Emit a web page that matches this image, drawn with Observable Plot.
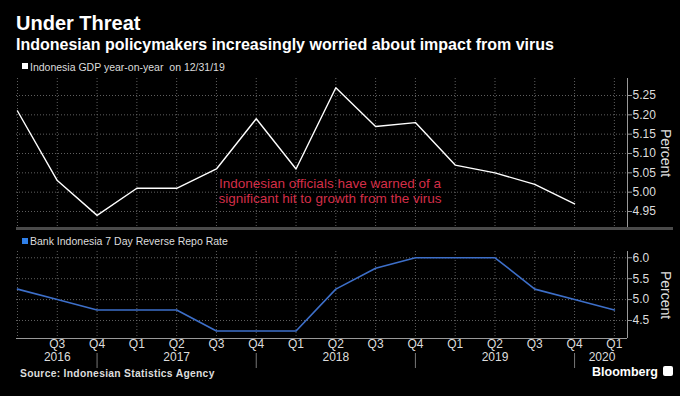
<!DOCTYPE html>
<html><head><meta charset="utf-8">
<script src="https://cdn.jsdelivr.net/npm/d3@7"></script>
<script src="https://cdn.jsdelivr.net/npm/@observablehq/plot@0.6"></script>
<style>
html,body{margin:0;padding:0;background:#000;}
#root{position:relative;width:680px;height:396px;background:#000;overflow:hidden;font-family:"Liberation Sans",Arial,sans-serif;color:#fff;}
.abs{position:absolute;white-space:nowrap;line-height:1;}
.plot{position:absolute;left:0;}
.sq{position:absolute;width:6px;height:6px;}
</style></head><body><div id="root">
<div class="abs" id="title" style="left:16px;top:13px;font-size:20px;font-weight:bold;">Under Threat</div>
<div class="abs" id="subtitle" style="left:16px;top:37px;font-size:16px;font-weight:bold;">Indonesian policymakers increasingly worried about impact from virus</div>
<div class="sq" style="left:22px;top:63px;background:#fff;"></div>
<div class="abs" style="left:30px;top:62px;font-size:10.5px;color:#ddd;">Indonesia GDP year-on-year&nbsp; on 12/31/19</div>
<div id="topPlot" class="plot" style="top:72px;"></div>
<div style="position:absolute;left:16px;top:227px;width:657px;height:3px;background:#4a4a4a;"></div>
<div class="abs" style="left:666px;top:153px;font-size:14px;color:#ddd;transform:translate(-50%,-50%) rotate(90deg);">Percent</div>
<div class="sq" style="left:22px;top:238px;background:#2f7fe8;"></div>
<div class="abs" style="left:30px;top:236px;font-size:10.5px;color:#ddd;">Bank Indonesia 7 Day Reverse Repo Rate</div>
<div id="bottomPlot" class="plot" style="top:245px;"></div>
<div class="abs" style="left:666px;top:295px;font-size:14px;color:#ddd;transform:translate(-50%,-50%) rotate(90deg);">Percent</div>
<div class="abs" style="left:20px;top:369px;font-size:10.3px;font-weight:bold;letter-spacing:0.3px;color:#ddd;">Source: Indonesian Statistics Agency</div>
<div class="abs" style="left:592px;top:366px;font-size:12.5px;font-weight:bold;color:#fff;">Bloomberg</div>
<div style="position:absolute;left:663px;top:366px;width:10px;height:10px;background:#fff;border-radius:2px;"></div>
</div>
<script>
// Data
const quarters = ["Q2","Q3","Q4","Q1","Q2","Q3","Q4","Q1","Q2","Q3","Q4","Q1","Q2","Q3","Q4","Q1"];
const years = ["2016","2017","2018","2019"];
const yearAt = [1, 4, 8, 12];          // quarter index where year label sits
const lastYear = "2020";
const lastYearAt = 15;
const yearBreaks = [2, 6, 10, 14];     // quarter index of year separator marks
const gdp = [5.21, 5.03, 4.94, 5.01, 5.01, 5.06, 5.19, 5.06, 5.27, 5.17, 5.18, 5.07, 5.05, 5.02, 4.97];
const repo = [5.25, 5.00, 4.75, 4.75, 4.75, 4.25, 4.25, 4.25, 5.25, 5.75, 6.00, 6.00, 6.00, 5.25, 5.00, 4.75];
const gdpTicks = [4.95, 5.00, 5.05, 5.10, 5.15, 5.20, 5.25];
const repoTicks = [4.5, 5.0, 5.5, 6.0];
const note = "Indonesian officials have warned of a\nsignificant hit to growth from the virus";

const xDomain = [-0.025, 15.33];
const idx = d3.range(quarters.length);
const gridStyle = {stroke: "#777", strokeOpacity: 0.8, strokeDasharray: "1,2", strokeWidth: 1};
const font = '"Liberation Sans", Arial, sans-serif';

const gdpData = gdp.map((v, i) => ({i, v}));
const repoData = repo.map((v, i) => ({i, v}));
const quarterLabels = quarters.map((q, i) => ({i, q})).filter(d => d.i > 0);

const topChart = Plot.plot({
  width: 680, height: 160, marginTop: 6, marginBottom: 4, marginLeft: 16, marginRight: 53,
  style: {background: "transparent", color: "#ddd", fontSize: "12px", fontFamily: font},
  x: {domain: xDomain, axis: null},
  y: {domain: [4.906, 5.294], axis: null},
  marks: [
    Plot.gridX(idx, gridStyle),
    Plot.gridY(gdpTicks, gridStyle),
    Plot.ruleX([xDomain[1]], {stroke: "#999"}),
    Plot.axisY(gdpTicks, {anchor: "right", tickSize: 4, tickPadding: 1, stroke: "#999", fill: "#ddd", tickFormat: d => d.toFixed(2), label: null, fontSize: 12}),
    Plot.line(gdpData, {x: "i", y: "v", stroke: "#fff", strokeWidth: 1.4}),
    Plot.text([note], {frameAnchor: "middle", dx: 8, dy: 37, fill: "#d42e48", fontSize: 13.5, lineHeight: 1.15, text: d => d})
  ]
});
document.getElementById("topPlot").appendChild(topChart);

const bottomChart = Plot.plot({
  width: 680, height: 127, marginTop: 6, marginBottom: 34, marginLeft: 16, marginRight: 53,
  style: {background: "transparent", color: "#ddd", fontSize: "12px", fontFamily: font},
  x: {domain: xDomain, axis: null},
  y: {domain: [4.07, 6.15], axis: null},
  marks: [
    Plot.gridX(idx, gridStyle),
    Plot.gridY(repoTicks, gridStyle),
    Plot.ruleX([xDomain[1]], {stroke: "#999"}),
    Plot.ruleY([4.07], {stroke: "#999"}),
    Plot.axisY(repoTicks, {anchor: "right", tickSize: 4, tickPadding: 1, stroke: "#999", fill: "#ddd", tickFormat: d => d.toFixed(1), label: null, fontSize: 12}),
    Plot.text(quarterLabels, {x: "i", text: "q", frameAnchor: "bottom", dy: 9, fill: "#ddd", fontSize: 12}),
    Plot.text(years, {x: (d, i) => yearAt[i], frameAnchor: "bottom", dy: 22, fill: "#ddd", fontSize: 12, text: d => d}),
    Plot.text([lastYear], {x: () => lastYearAt, frameAnchor: "bottom", dy: 22, dx: 1, textAnchor: "end", fill: "#ddd", fontSize: 12, text: d => d}),
    Plot.ruleX(yearBreaks, {stroke: "#777", insetTop: 102, insetBottom: -30}),
    Plot.line(repoData, {x: "i", y: "v", stroke: "#3d6fc9", strokeWidth: 1.6})
  ]
});
document.getElementById("bottomPlot").appendChild(bottomChart);
</script>
</body></html>
